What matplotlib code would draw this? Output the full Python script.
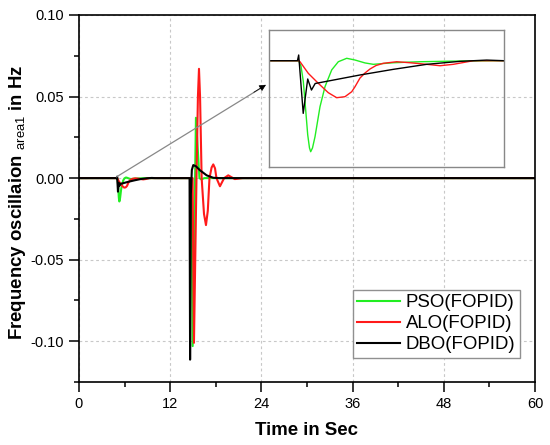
import matplotlib
matplotlib.use("Agg")
import matplotlib.pyplot as plt
from matplotlib.ticker import MultipleLocator, FormatStrFormatter

plt.rcParams['font.family'] = ['Liberation Sans', 'DejaVu Sans']
plt.rcParams['axes.unicode_minus'] = False
plt.rcParams['mathtext.fontset'] = 'custom'
plt.rcParams['mathtext.rm'] = 'Liberation Sans'

# ---------------- data ----------------
pso_t = [0, 5.02, 5.076, 5.132, 5.173, 5.239, 5.282, 5.311, 5.355, 5.416,
         5.537, 5.658, 5.821, 5.981, 6.185, 6.386, 6.628, 6.83, 7.315, 7.96,
         8.93, 10.0, 14.8, 14.96, 15.39, 15.85, 16.1, 16.5, 60]
pso_y = [0, 0, -0.00084, -0.00326, -0.00642, -0.01168, -0.01375, -0.01434,
         -0.01375, -0.01198, -0.00725, -0.0041, -0.00145, -0.00016, 0.00038,
         0.00011, -0.00035, -0.00057, -0.00032, -0.00016, -0.00005, 0, 0,
         -0.103, 0.037, 0.0, -0.0008, 0, 0]

alo_t = [0, 5.02, 5.052, 5.253, 5.496, 5.738, 5.942, 6.143, 6.306, 6.386,
         6.507, 6.628, 6.749, 6.895, 7.072, 7.397, 7.72, 8.125, 8.448, 8.77,
         9.255, 10.0, 14.95, 15.13, 15.46, 15.65, 15.79, 15.93, 16.14, 16.45,
         16.71, 16.95, 17.17, 17.45, 17.67, 17.9, 18.09, 18.55, 19.1, 19.64,
         20.5, 21.5, 60]
alo_y = [0, 0, -0.00016, -0.00199, -0.00356, -0.00504, -0.00583, -0.00567,
         -0.00489, -0.0041, -0.00273, -0.00194, -0.00131, -0.00076, -0.00041,
         -0.00016, -0.00032, -0.00057, -0.00079, -0.00057, 0, 0, 0, -0.101, 0,
         0.05, 0.067, 0.05, 0, -0.022, -0.0288, -0.02, 0, 0.0065, 0.0084,
         0.006, 0, -0.005, 0, 0.0017, -0.0006, 0, 0]

dbo_t = [0, 4.99, 5.02, 5.13, 5.239, 5.33, 5.42, 5.496, 6.507, 7.315, 8.125,
         8.933, 9.58, 10.0, 14.55, 14.62, 14.72, 14.85, 15.04, 15.4, 15.92,
         16.8, 17.67, 18.5, 60]
dbo_y = [0, 0, 0.0009, -0.0083, -0.00288, -0.00462, -0.00359, -0.0035,
         -0.00225, -0.00136, -0.00057, -0.0001, 0.0001, 0, 0, -0.1113, -0.01,
         0.005, 0.008, 0.0072, 0.0048, 0.0017, 0.0002, 0, 0]

labels = ['PSO(FOPID)', 'ALO(FOPID)', 'DBO(FOPID)']
colors = ['#22ee22', '#ff1a1a', '#000000']

x_ticks = [0, 12, 24, 36, 48, 60]
y_ticks = [-0.10, -0.05, 0.00, 0.05, 0.10]

# ---------------- figure ----------------
fig = plt.figure(figsize=(5.5, 4.45), dpi=100)
ax = fig.add_axes([0.1436, 0.1416, 0.8291, 0.8247])

series = [(pso_t, pso_y), (alo_t, alo_y), (dbo_t, dbo_y)]
for (t, y), lab, c in zip(series, labels, colors):
    ax.plot(t, y, color=c, lw=1.5, label=lab)

ax.set_xlim(0, 60)
ax.set_ylim(-0.125, 0.10)
ax.set_xticks(x_ticks)
ax.set_yticks(y_ticks)
ax.xaxis.set_minor_locator(MultipleLocator(6))
ax.yaxis.set_minor_locator(MultipleLocator(0.025))
ax.yaxis.set_major_formatter(FormatStrFormatter('%.2f'))
ax.tick_params(which='major', direction='out', length=7, width=1.1,
               labelsize=10.5, pad=4)
ax.tick_params(which='minor', direction='out', length=3.5, width=1.1)
for s in ax.spines.values():
    s.set_linewidth(1.2)
ax.grid(True, which='major', color='#c8c8c8', ls=(0, (2.5, 2.5)), lw=0.8)
ax.set_axisbelow(True)

ax.set_xlabel('Time in Sec', fontsize=13.4, fontweight='bold')
ax.set_ylabel(r'Frequency oscillaion $_{\mathrm{area1}}$ in Hz',
              fontsize=13.4, fontweight='bold')
ax.xaxis.set_label_coords(0.5, -0.11)
ax.yaxis.set_label_coords(-0.112, 0.49)

leg = ax.legend(loc='lower right', bbox_to_anchor=(0.967, 0.065),
                borderaxespad=0, fontsize=13.4, fancybox=False,
                edgecolor='#909090', framealpha=1, handlelength=2.3,
                handletextpad=0.3, labelspacing=0.22, borderpad=0.25)
leg.get_frame().set_linewidth(1.0)

# arrow from the first disturbance to the inset
ax.plot([4.96, 24.4], [0.0008, 0.0565], color='#888888', lw=0.9)
ax.annotate('', xy=(24.6, 0.0572), xytext=(23.0, 0.0526),
            arrowprops=dict(arrowstyle='-|>', color='black', lw=0.5,
                            mutation_scale=10, shrinkA=0, shrinkB=0))

# inset
ins = fig.add_axes([269 / 550, 1 - 167 / 445, 235 / 550, 137 / 445])
ins.patch.set_alpha(0)
for (t, y), c in zip(series, colors):
    ins.plot(t, y, color=c, lw=1.0)
ins.set_xlim(4.3, 10.0)
ins.set_ylim(-0.01675, 0.00484)
ins.set_xticks([])
ins.set_yticks([])
for s in ins.spines.values():
    s.set_color('#888888')
    s.set_linewidth(1.0)

fig.savefig('out.png', dpi=100)
